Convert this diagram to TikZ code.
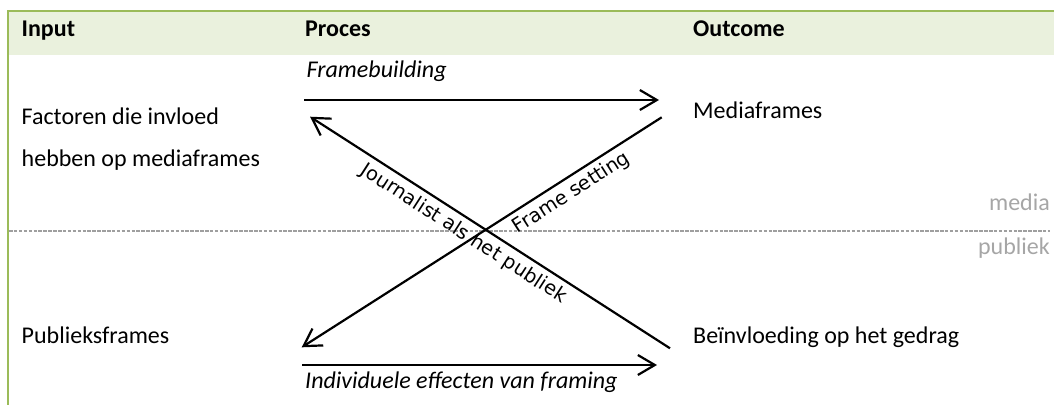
\documentclass[tikz,border=0pt]{standalone}
\usepackage{fontspec}
\setmainfont{Carlito}
\newfontfamily\dejavu{DejaVu Sans}
\usetikzlibrary{arrows.meta}
\definecolor{hdrfill}{HTML}{EAF1DD}
\definecolor{hdrline}{HTML}{9BBB59}
\definecolor{sepgray}{HTML}{A6A6A6}
\definecolor{dashgray}{HTML}{9F9F9F}
\begin{document}
\begin{tikzpicture}[x=1pt,y=-1pt,
  font=\fontsize{24}{28}\selectfont,
  txt/.style={anchor=base west, inner sep=0pt},
  hdr/.style={txt, font=\fontsize{24}{28}\selectfont\bfseries},
  itxt/.style={txt, font=\fontsize{24}{28}\selectfont\itshape},
  side/.style={anchor=base east, inner sep=0pt, text=sepgray},
  conn/.style={line width=2.2pt, -{Straight Barb[length=17pt,width=20pt,line width=2.2pt]}},
  slab/.style={sloped, below, inner sep=5pt, font=\dejavu\fontsize{19.5}{24}\selectfont}]
\useasboundingbox (0,0) rectangle (1054,405);
% header band
\fill[hdrfill] (8,12) rectangle (1054,55);
\draw[hdrline, line width=2.2pt] (7,11) -- (1054,11);
\draw[hdrline, line width=2.2pt] (8,10) -- (8,405);
% media / publiek separator
\draw[dashgray, line width=2.3pt, dash pattern=on 3.5pt off 1.4pt] (9,231) -- (1050,231);
\node[side] (media) at (1050,210) {media};
\node[side] (publiek) at (1050,254) {publiek};
% header texts
\node[hdr] (input) at (21.5,36) {Input};
\node[hdr] (proces) at (305,36) {Proces};
\node[hdr] (outcome) at (693,36) {Outcome};
% cell texts
\node[txt] (fac1) at (21.5,124) {Factoren die invloed};
\node[txt] (fac2) at (21.5,166.5) {hebben op mediaframes};
\node[txt] (mf) at (693,118) {Mediaframes};
\node[txt] (pf) at (21.5,343) {Publieksframes};
\node[txt] (bg) at (693,343) {Beïnvloeding op het gedrag};
\node[itxt] (fb) at (306.5,77) {Framebuilding};
\node[itxt] (ie) at (305,388) {Individuele effecten van framing};
% connector end points
\coordinate (t1) at (304,100);
\coordinate (t2) at (659,100);
\coordinate (b1) at (302,365);
\coordinate (b2) at (657,365);
\coordinate (jA) at (670,348.3);
\coordinate (jB) at (310,116.7);
\coordinate (fA) at (661.7,117.3);
\coordinate (fB) at (301.7,347.3);
% connectors
\draw[conn] (t1) -- (t2);
\draw[conn] (b1) -- (b2);
\draw[conn] (jA) -- node[slab, pos=0.55] {Journalist als het publiek} (jB);
\draw[conn] (fA) -- node[slab, pos=0.273] {Frame setting} (fB);
\end{tikzpicture}
\end{document}
